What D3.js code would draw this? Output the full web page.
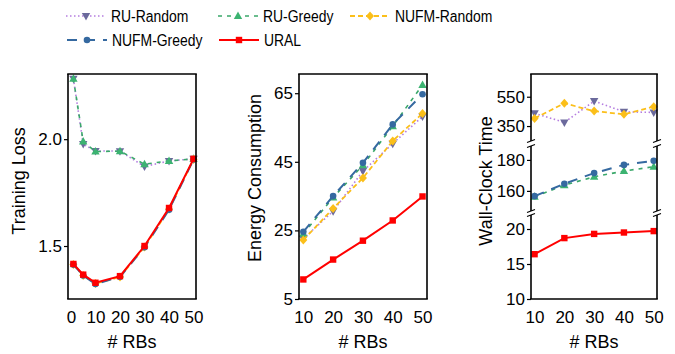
<!DOCTYPE html>
<html>
<head>
<meta charset="utf-8">
<script src="https://cdn.jsdelivr.net/npm/d3@7"></script>
<style>
  body { margin: 0; background: #fff; }
  text { font-family: "Liberation Sans", Arial, sans-serif; }
</style>
</head>
<body>
<script>
// ---- data ----
const lossRBs = [1, 5, 10, 20, 30, 40, 50];
const rbs = [10, 20, 30, 40, 50];

const lossRURandom = [2.283, 1.977, 1.945, 1.944, 1.872, 1.898, 1.908];
const lossRUGreedy = [2.283, 1.989, 1.942, 1.944, 1.883, 1.898, 1.908];
const lossNUFMRandom = [1.414, 1.362, 1.324, 1.355, 1.495, 1.672, 1.905];
const lossNUFMGreedy = [1.413, 1.362, 1.322, 1.356, 1.494, 1.670, 1.905];
const lossURAL = [1.416, 1.366, 1.328, 1.359, 1.50, 1.678, 1.908];

const energyRURandom = [22.6, 30.6, 42.3, 50.3, 58.2];
const energyRUGreedy = [24.0, 34.6, 44.0, 55.4, 67.4];
const energyNUFMRandom = [22.2, 31.4, 40.3, 51.1, 59.1];
const energyNUFMGreedy = [24.6, 35.0, 44.7, 55.9, 64.7];
const energyURAL = [10.7, 16.5, 22.0, 27.9, 34.9];

const timeRURandom = [437, 375, 520, 447, 443];
const timeRUGreedy = [156.2, 163.7, 169.1, 172.8, 175.6];
const timeNUFMRandom = [402, 505, 452, 430, 482];
const timeNUFMGreedy = [156.6, 164.6, 171.5, 176.8, 179.4];
const timeURAL = [16.4, 18.7, 19.3, 19.5, 19.7];

const lossTicks = [1.5, 2.0];
const energyTicks = [5, 25, 45, 65];
const timeTicksTop = [350, 550];
const timeTicksMid = [160, 180];
const timeTicksBot = [10, 15, 20];
const lossXTicks = [0, 10, 20, 30, 40, 50];

const styles = {
  "RU-Random":   { color: "#b57ee0", mcolor: "#6b6a9c", dash: "1.5,2.5", width: 1.6, marker: "tri-down" },
  "RU-Greedy":   { color: "#3aa86a", mcolor: "#3cb371", dash: "4,5", width: 1.6, marker: "tri-up" },
  "NUFM-Random": { color: "#fbbf1a", mcolor: "#fbbf1a", dash: "5,3", width: 1.8, marker: "diamond" },
  "NUFM-Greedy": { color: "#3569a0", mcolor: "#3569a0", dash: "10,8", width: 2, marker: "circle" },
  "URAL":        { color: "#ff0000", mcolor: "#ff0000", dash: null, width: 2, marker: "square" }
};
const order = ["RU-Random", "RU-Greedy", "NUFM-Random", "NUFM-Greedy", "URAL"];

const W = 675, H = 354;
const tickFont = 17, labelFont = 18, legendFont = 16;
const svg = d3.select(document.body).append("svg")
  .attr("width", W).attr("height", H);

function drawMarker(g, kind, x, y, color) {
  if (kind === "circle") {
    g.append("circle").attr("cx", x).attr("cy", y).attr("r", 3.3).attr("fill", color);
  } else if (kind === "square") {
    g.append("rect").attr("x", x - 3.2).attr("y", y - 3.2).attr("width", 6.4).attr("height", 6.4).attr("fill", color);
  } else if (kind === "diamond") {
    g.append("path").attr("d", `M${x},${y - 4.5}L${x + 4},${y}L${x},${y + 4.5}L${x - 4},${y}Z`).attr("fill", color);
  } else if (kind === "tri-up") {
    g.append("path").attr("d", `M${x},${y - 4.5}L${x + 4.2},${y + 3}L${x - 4.2},${y + 3}Z`).attr("fill", color);
  } else if (kind === "tri-down") {
    g.append("path").attr("d", `M${x},${y + 4.5}L${x + 4.2},${y - 3}L${x - 4.2},${y - 3}Z`).attr("fill", color);
  }
}

function drawSeries(g, xs, ys, name, x, y) {
  const st = styles[name];
  const line = d3.line().x(d => x(d[0])).y(d => y(d[1]));
  const pts = xs.map((v, i) => [v, ys[i]]);
  const p = g.append("path").datum(pts)
    .attr("d", line)
    .attr("fill", "none")
    .attr("stroke", st.color)
    .attr("stroke-width", st.width);
  if (st.dash) p.attr("stroke-dasharray", st.dash);
  pts.forEach(d => drawMarker(g, st.marker, x(d[0]), y(d[1]), st.mcolor));
}

function frame(g, x0, x1, y0, y1, sides) {
  const s = sides || { top: true, bottom: true };
  const c = "#000";
  g.append("line").attr("x1", x0).attr("x2", x0).attr("y1", y0).attr("y2", y1).attr("stroke", c).attr("stroke-width", 1.6);
  g.append("line").attr("x1", x1).attr("x2", x1).attr("y1", y0).attr("y2", y1).attr("stroke", c).attr("stroke-width", 1.6);
  if (s.top) g.append("line").attr("x1", x0 - 0.8).attr("x2", x1 + 0.8).attr("y1", y0).attr("y2", y0).attr("stroke", c).attr("stroke-width", 1.6);
  if (s.bottom) g.append("line").attr("x1", x0 - 0.8).attr("x2", x1 + 0.8).attr("y1", y1).attr("y2", y1).attr("stroke", c).attr("stroke-width", 1.6);
}

function yAxis(g, y, ticks, fmt, x0) {
  const ax = g.append("g").attr("transform", `translate(${x0},0)`)
    .call(d3.axisLeft(y).tickValues(ticks).tickFormat(fmt).tickSize(4).tickPadding(2));
  ax.select(".domain").remove();
  ax.selectAll("line").attr("stroke", "#000").attr("stroke-width", 1.2);
  ax.selectAll("text").attr("font-size", tickFont).attr("fill", "#000")
    .attr("font-family", "Liberation Sans, Arial, sans-serif");
}

function xAxis(g, x, ticks, y0) {
  const ax = g.append("g").attr("transform", `translate(0,${y0})`)
    .call(d3.axisBottom(x).tickValues(ticks).tickSize(0).tickPadding(12));
  ax.select(".domain").remove();
  ax.selectAll("text").attr("font-size", tickFont).attr("fill", "#000")
    .attr("font-family", "Liberation Sans, Arial, sans-serif");
}

function labels(g, cx, cy, xcx, text) {
  g.append("text").attr("transform", `translate(${cx},${cy}) rotate(-90)`)
    .attr("text-anchor", "middle").attr("dominant-baseline", "central")
    .attr("font-size", labelFont).text(text);
  g.append("text").attr("x", xcx).attr("y", 348).attr("text-anchor", "middle")
    .attr("font-size", labelFont).text("# RBs");
}

const plotTop = 74, plotBottom = 299;

// ---- panel 1: training loss ----
{
  const g = svg.append("g");
  const x = d3.scaleLinear().domain([-1.2, 51]).range([68, 196]);
  const y = d3.scaleLinear().domain([1.252, 2.305]).range([plotBottom, plotTop]);
  const data = {
    "RU-Random": lossRURandom, "RU-Greedy": lossRUGreedy, "NUFM-Random": lossNUFMRandom,
    "NUFM-Greedy": lossNUFMGreedy, "URAL": lossURAL
  };
  order.forEach(n => drawSeries(g, lossRBs, data[n], n, x, y));
  frame(g, 68, 196, plotTop, plotBottom);
  yAxis(g, y, lossTicks, d3.format(".1f"), 68);
  xAxis(g, x, lossXTicks, plotBottom);
  labels(g, 19, 181, 132, "Training Loss");
}

// ---- panel 2: energy ----
{
  const g = svg.append("g");
  const x = d3.scaleLinear().domain([8.55, 51.5]).range([299, 427]);
  const y = d3.scaleLinear().domain([5, 70.6]).range([plotBottom, plotTop]);
  const data = {
    "RU-Random": energyRURandom, "RU-Greedy": energyRUGreedy, "NUFM-Random": energyNUFMRandom,
    "NUFM-Greedy": energyNUFMGreedy, "URAL": energyURAL
  };
  order.forEach(n => drawSeries(g, rbs, data[n], n, x, y));
  frame(g, 299, 427, plotTop, plotBottom);
  yAxis(g, y, energyTicks, d3.format("d"), 299);
  xAxis(g, x, rbs, plotBottom);
  labels(g, 255, 178, 363, "Energy Consumption");
}

// ---- panel 3: wall-clock time (broken axis) ----
{
  const g = svg.append("g");
  const x0 = 531, x1 = 657;
  const x = d3.scaleLinear().domain([8.8, 51.1]).range([x0, x1]);
  const yTop = d3.scaleLinear().domain([248, 705]).range([141, plotTop]);
  const yMid = d3.scaleLinear().domain([147, 189]).range([211, 146]);
  const yBot = d3.scaleLinear().domain([10, 22]).range([plotBottom, 215]);

  drawSeries(g, rbs, timeRURandom, "RU-Random", x, yTop);
  drawSeries(g, rbs, timeNUFMRandom, "NUFM-Random", x, yTop);
  drawSeries(g, rbs, timeRUGreedy, "RU-Greedy", x, yMid);
  drawSeries(g, rbs, timeNUFMGreedy, "NUFM-Greedy", x, yMid);
  drawSeries(g, rbs, timeURAL, "URAL", x, yBot);

  frame(g, x0, x1, plotTop, 141, { top: true, bottom: false });
  frame(g, x0, x1, 146, 211, { top: false, bottom: false });
  frame(g, x0, x1, 215, plotBottom, { top: false, bottom: true });

  // break marks
  [[141, 146], [211, 215]].forEach(([a, b]) => {
    [x0, x1].forEach(xx => {
      g.append("rect").attr("x", xx - 2).attr("y", a).attr("width", 4).attr("height", b - a).attr("fill", "#fff");
      g.append("line").attr("x1", xx - 4).attr("x2", xx + 4).attr("y1", a + 1.5).attr("y2", a - 1.5)
        .attr("stroke", "#000").attr("stroke-width", 1.2);
      g.append("line").attr("x1", xx - 4).attr("x2", xx + 4).attr("y1", b + 1.5).attr("y2", b - 1.5)
        .attr("stroke", "#000").attr("stroke-width", 1.2);
    });
  });

  yAxis(g, yTop, timeTicksTop, d3.format("d"), x0);
  yAxis(g, yMid, timeTicksMid, d3.format("d"), x0);
  yAxis(g, yBot, timeTicksBot, d3.format("d"), x0);
  xAxis(g, x, rbs, plotBottom);
  labels(g, 486, 181, 594, "Wall-Clock Time");
}

// ---- legend ----
{
  const g = svg.append("g");
  const items = [
    { name: "RU-Random", lx: 66, ly: 16 },
    { name: "RU-Greedy", lx: 218, ly: 16 },
    { name: "NUFM-Random", lx: 350, ly: 16 },
    { name: "NUFM-Greedy", lx: 67, ly: 40 },
    { name: "URAL", lx: 219, ly: 40 }
  ];
  items.forEach(it => {
    const st = styles[it.name];
    const l = g.append("line").attr("x1", it.lx).attr("x2", it.lx + 40)
      .attr("y1", it.ly).attr("y2", it.ly)
      .attr("stroke", st.color).attr("stroke-width", st.width);
    if (st.dash) l.attr("stroke-dasharray", st.dash);
    drawMarker(g, st.marker, it.lx + 20, it.ly, st.mcolor);
    g.append("text")
      .attr("transform", `translate(${it.lx + 45},${it.ly}) scale(0.87,1)`)
      .attr("dominant-baseline", "central").attr("font-size", legendFont).text(it.name);
  });
}
</script>
</body>
</html>
